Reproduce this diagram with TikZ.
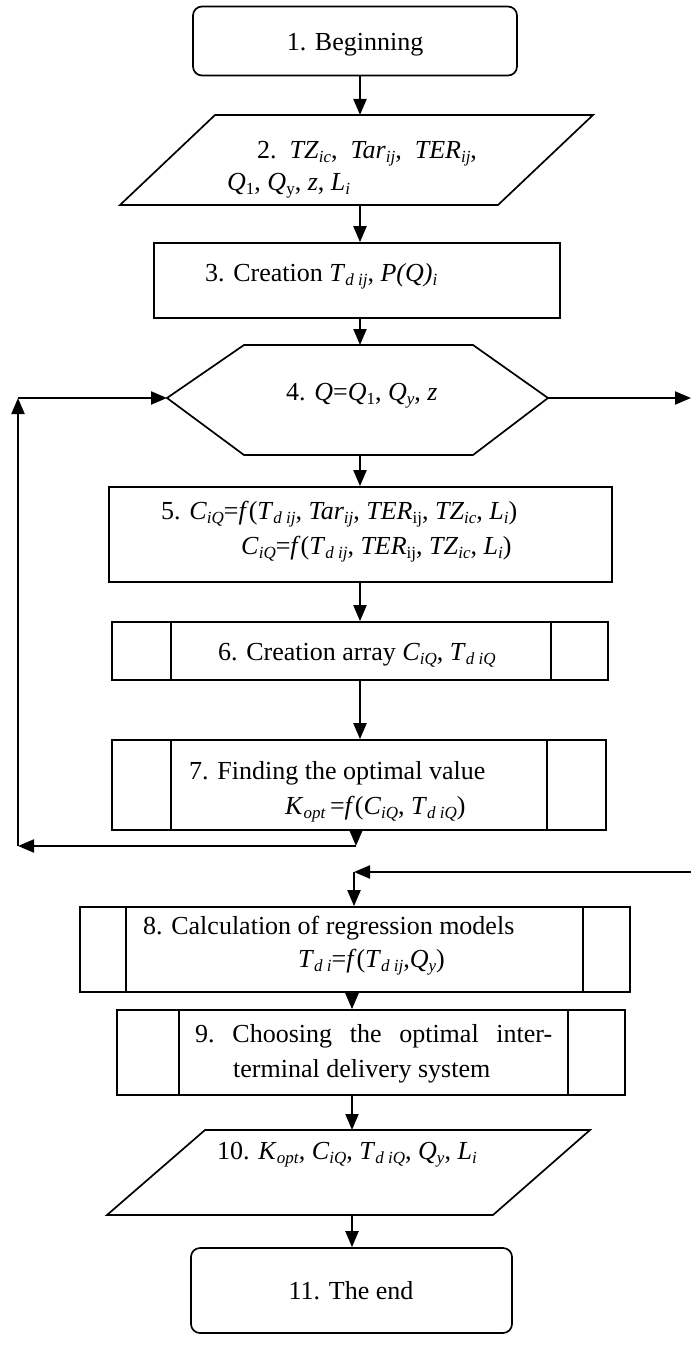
\documentclass[tikz,border=0pt]{standalone}
\usepackage{fontspec}
\setmainfont{Liberation Serif}
\usetikzlibrary{arrows.meta}
\newcommand\lo[1]{\raisebox{-4pt}{\fontsize{17}{17}\selectfont #1}}
\begin{document}
\begin{tikzpicture}[x=1pt,y=-1pt,
  box/.style={draw, line width=1.7pt, inner sep=0pt},
  arr/.style={line width=2.1pt, -{Triangle[length=16pt,width=13pt]}},
  txt/.style={inner sep=0pt, font=\fontsize{26}{30}\selectfont, anchor=base west}]
\useasboundingbox[fill=white] (0,0) rectangle (691,1359);
% 1
\node[box, rounded corners=9pt, minimum width=324pt, minimum height=69pt] (b1) at (355,41) {};
\node[txt, anchor=base] (t1) at (355,51) {1. Beginning};
% 2
\draw[box] (215,115) -- (593,115) -- (498,205) -- (120,205) -- cycle;
\coordinate (p2n) at (360,115);
\coordinate (p2s) at (360,205);
\node[txt] (t2a) at (257,159) {2.\ \ \textit{TZ}\lo{\textit{ic}},\ \ \textit{Tar}\lo{\textit{ij}},\ \ \textit{TER}\lo{\textit{ij}},};
\node[txt] (t2b) at (227,191) {\textit{Q}\lo{1}, \textit{Q}\lo{y}, \textit{z}, \textit{L}\lo{\textit{i}}};
% 3
\node[box, minimum width=406pt, minimum height=75pt] (b3) at (357,280.5) {};
\node[txt] (t3) at (205,281) {3. Creation \textit{T}\lo{\textit{d ij}}, \textit{P(Q)}\lo{\textit{i}}};
% 4 hexagon
\draw[box] (167,398) -- (244,345) -- (473,345) -- (548,398) -- (473,455) -- (244,455) -- cycle;
\coordinate (hN) at (360,345);
\coordinate (hS) at (360,455);
\coordinate (hW) at (167,398);
\coordinate (hE) at (548,398);
\node[txt] (t4) at (286,400) {4. \textit{Q}=\textit{Q}\lo{1}, \textit{Q}\lo{\textit{y}}, \textit{z}};
% 5
\node[box, minimum width=503pt, minimum height=95pt] (b5) at (360.5,534.5) {};
\node[txt] (t5a) at (161,519) {5. \textit{C}\lo{\textit{iQ}}=\textit{f}(\textit{T}\lo{\textit{d ij}}, \textit{Tar}\lo{\textit{ij}}, \textit{TER}\lo{ij}, \textit{TZ}\lo{\textit{ic}}, \textit{L}\lo{\textit{i}})};
\node[txt] (t5b) at (241,554) {\textit{C}\lo{\textit{iQ}}=\textit{f}(\textit{T}\lo{\textit{d ij}}, \textit{TER}\lo{ij}, \textit{TZ}\lo{\textit{ic}}, \textit{L}\lo{\textit{i}})};
% 6
\node[box, minimum width=496pt, minimum height=58pt] (b6) at (360,651) {};
\draw[box] ([xshift=60pt]b6.north west) -- ([xshift=60pt]b6.south west);
\draw[box] ([xshift=-58pt]b6.north east) -- ([xshift=-58pt]b6.south east);
\node[txt] (t6) at (218,660) {6. Creation array \textit{C}\lo{\textit{iQ}}, \textit{T}\lo{\textit{d iQ}}};
% 7
\node[box, minimum width=494pt, minimum height=90pt] (b7) at (359,785) {};
\draw[box] ([xshift=60pt]b7.north west) -- ([xshift=60pt]b7.south west);
\draw[box] ([xshift=-60pt]b7.north east) -- ([xshift=-60pt]b7.south east);
\node[txt] (t7a) at (189,779) {7. Finding the optimal value};
\node[txt] (t7b) at (285,814) {\textit{K}\lo{\textit{opt}}\,=\textit{f}(\textit{C}\lo{\textit{iQ}}, \textit{T}\lo{\textit{d iQ}})};
% 8
\node[box, minimum width=550pt, minimum height=85pt] (b8) at (355,949.5) {};
\draw[box] ([xshift=47pt]b8.north west) -- ([xshift=47pt]b8.south west);
\draw[box] ([xshift=-48pt]b8.north east) -- ([xshift=-48pt]b8.south east);
\node[txt] (t8a) at (143,934) {8. Calculation of regression models};
\node[txt] (t8b) at (298,967) {\textit{T}\lo{\textit{d i}}=\textit{f}(\textit{T}\lo{\textit{d ij}},\textit{Q}\lo{\textit{y}})};
% 9
\node[box, minimum width=508pt, minimum height=85pt] (b9) at (371,1052.5) {};
\draw[box] ([xshift=63pt]b9.north west) -- ([xshift=63pt]b9.south west);
\draw[box] ([xshift=-58pt]b9.north east) -- ([xshift=-58pt]b9.south east);
\node[txt] (t9a) at (195,1042) {\makebox[357pt][s]{9.\hfill Choosing\hfill the\hfill optimal\hfill inter-}};
\node[txt] (t9b) at (233,1077) {terminal delivery system};
% 10
\draw[box] (205,1130) -- (590,1130) -- (493,1215) -- (107,1215) -- cycle;
\coordinate (p10n) at (352,1130);
\coordinate (p10s) at (352,1215);
\node[txt] (t10) at (217,1159) {10. \textit{K}\lo{\textit{opt}}, \textit{C}\lo{\textit{iQ}}, \textit{T}\lo{\textit{d iQ}}, \textit{Q}\lo{\textit{y}}, \textit{L}\lo{\textit{i}}};
% 11
\node[box, rounded corners=9pt, minimum width=321pt, minimum height=85pt] (b11) at (351.5,1290.5) {};
\node[txt, anchor=base] (t11) at (351,1299) {11. The end};
% connectors
\draw[arr] (b1.south -| p2n) -- (p2n);
\draw[arr] (p2s) -- (b3.north -| p2s);
\draw[arr] (b3.south -| hN) -- (hN);
\draw[arr] (hS) -- (b5.north -| hS);
\draw[arr] (b5.south -| hS) -- (b6.north -| hS);
\draw[arr] (b6.south -| hS) -- (b7.north -| hS);
% loop
\coordinate (l1) at (356,846);
\coordinate (l2) at (18,846);
\coordinate (l3) at (18,398);
\draw[arr] (b7.south -| l1) -- (l1);
\draw[arr] (l1) -- (l2);
\draw[arr] (l2) -- (l3);
\draw[arr] (l3) -- (hW);
% exit
\coordinate (e1) at (691,398);
\draw[arr] (hE) -- (e1);
\coordinate (r1) at (691,872);
\coordinate (r2) at (354,872);
\draw[arr] (r1) -- (r2);
\draw[arr] (r2) -- (b8.north -| r2);
\draw[arr] (b8.south -| p10n) -- (b9.north -| p10n);
\draw[arr] (b9.south -| p10n) -- (p10n);
\draw[arr] (p10s) -- (b11.north -| p10s);
\end{tikzpicture}
\end{document}
